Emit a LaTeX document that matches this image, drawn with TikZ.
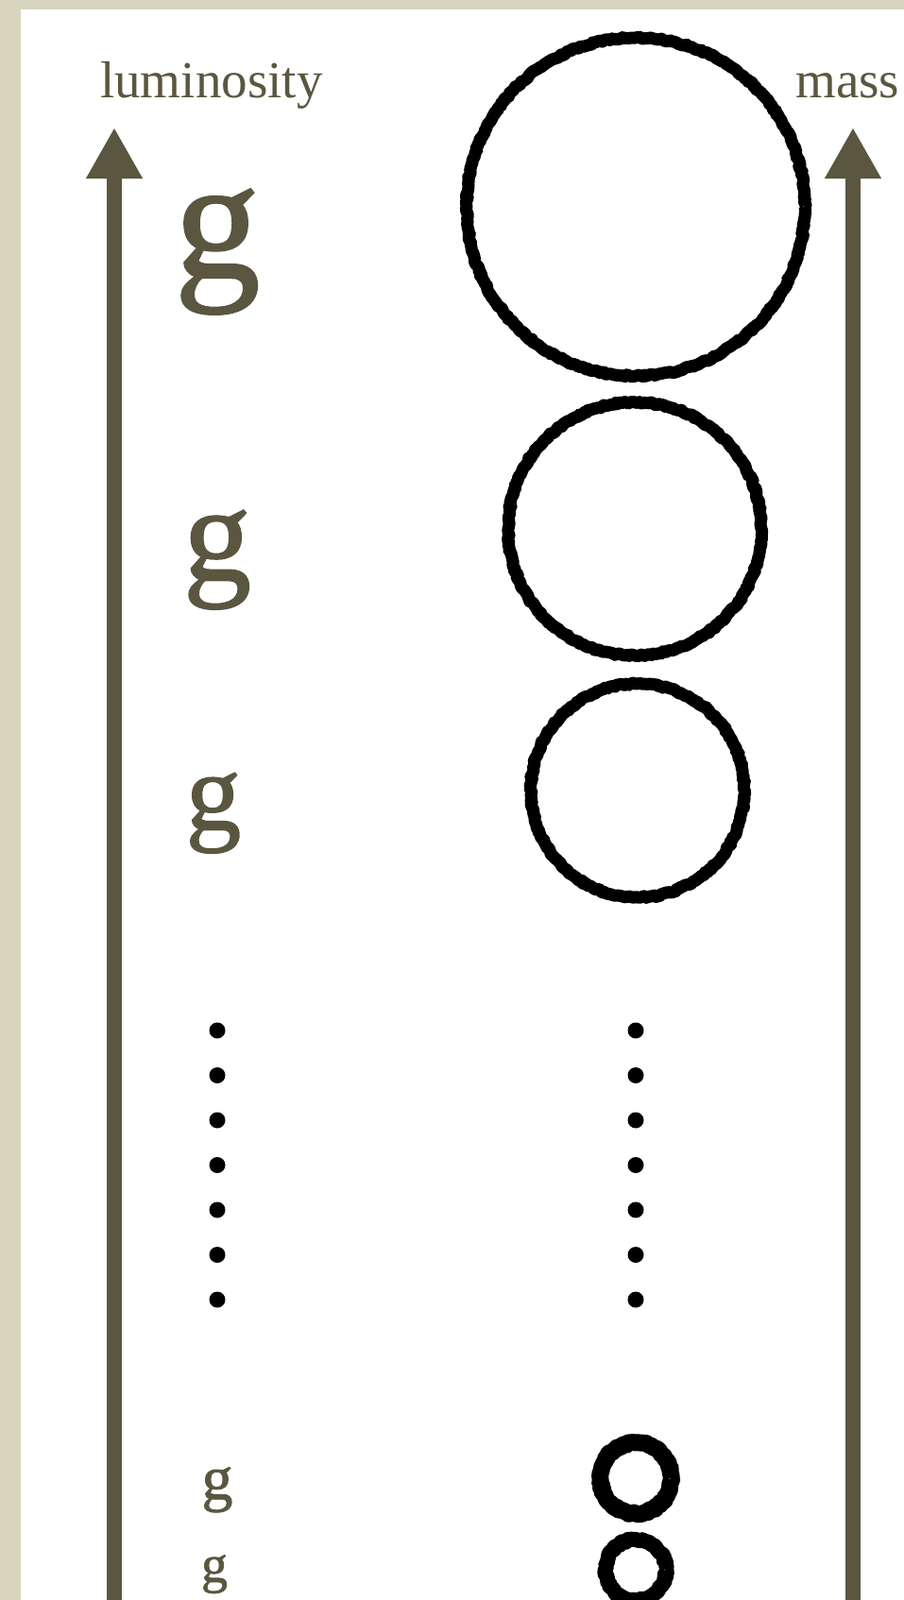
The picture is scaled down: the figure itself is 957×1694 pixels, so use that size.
\documentclass[tikz,border=0pt]{standalone}
\usepackage{xcolor}
\usepackage{fontspec}
\setmainfont{Liberation Serif}
\newfontfamily\heavyserif{Liberation Serif}[FakeBold=1.2]
\usepackage{tikz}
\usetikzlibrary{arrows.meta,decorations.pathmorphing}

\definecolor{axisbrown}{HTML}{5A5640}
\definecolor{paperbeige}{HTML}{D7D5BD}

\begin{document}
\begin{tikzpicture}[
  x=1pt, y=-1pt,
  axis/.style={line width=16pt, draw=axisbrown, -{Triangle[length=54pt,width=56pt]}},
  lbl/.style={text=axisbrown, inner sep=0pt, anchor=base west,
    font=\fontsize{55}{60}\selectfont},
  glyph/.style={text=axisbrown, inner sep=0pt, anchor=north},
  ring/.style={circle, draw=black, inner sep=0pt, line join=round,
    decorate, decoration={random steps, segment length=2.5pt, amplitude=1.1pt}},
  dotmark/.style={circle, fill=black, inner sep=0pt, minimum size=17pt}
]

% --- paper and panel ---
\useasboundingbox (0,0) rectangle (957,1694);
\fill[paperbeige] (0,0) rectangle (957,1694);
\fill[white] (22,10) rectangle (957,1694);

% --- axis titles ---
\node[lbl] (lumtitle) at (106,103) {luminosity};
\node[lbl] (masstitle) at (842,103) {mass};

% --- the two axes ---
\coordinate (lumfoot) at (121,1700);
\coordinate (lumhead) at (121,135);
\coordinate (massfoot) at (903,1700);
\coordinate (masshead) at (903,135);
\draw[axis] (lumfoot) -- (lumhead);
\draw[axis] (massfoot) -- (masshead);

% --- luminosity glyphs ---
\node[glyph, font=\heavyserif\fontsize{182}{182}\selectfont] (g1) at (230,200) {g};
\node[glyph, font=\heavyserif\fontsize{144}{144}\selectfont] (g2) at (230,540) {g};
\node[glyph, font=\heavyserif\fontsize{117}{117}\selectfont] (g3) at (226,818) {g};
\node[glyph, font=\heavyserif\fontsize{66}{66}\selectfont]   (g4) at (230,1553) {g};
\node[glyph, font=\heavyserif\fontsize{56}{56}\selectfont]   (g5) at (227,1646) {g};

% --- mass rings ---
\node[ring, line width=13pt, minimum size=358pt] (m1) at (673,219) {};
\node[ring, line width=13pt, minimum size=268pt] (m2) at (672,560) {};
\node[ring, line width=13pt, minimum size=226pt] (m3) at (675,837) {};
\node[ring, line width=18pt, minimum size=75pt]  (m4) at (673,1565) {};
\node[ring, line width=16pt, minimum size=64pt]  (m5) at (673,1662) {};

% --- ellipsis dots ---
\foreach \i in {0,...,6} {
  \node[dotmark] (dl\i) at (230,{1091+47.5*\i}) {};
  \node[dotmark] (dr\i) at (673,{1091+47.5*\i}) {};
}

\end{tikzpicture}
\end{document}
